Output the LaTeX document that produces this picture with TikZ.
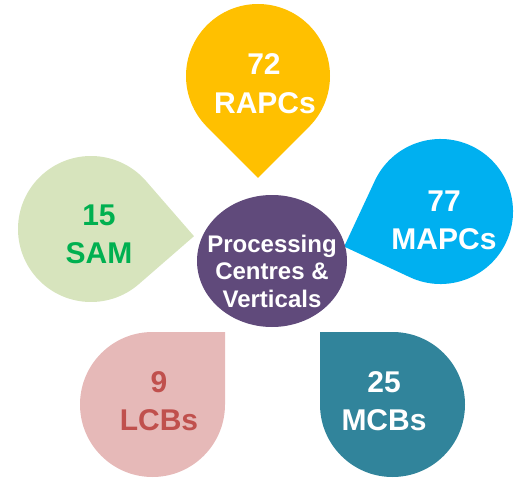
\documentclass[tikz,border=0pt]{standalone}
\usepackage{fontspec}
\setmainfont{Liberation Sans}
\definecolor{cgold}{HTML}{FFC000}
\definecolor{csamfill}{HTML}{D7E4BD}
\definecolor{csamtext}{HTML}{00B050}
\definecolor{cblue}{HTML}{00B0F0}
\definecolor{clcbfill}{HTML}{E6B9B8}
\definecolor{clcbtext}{HTML}{C0504D}
\definecolor{cteal}{HTML}{31849B}
\definecolor{cpurple}{HTML}{604A7B}
\newcommand\petaldrop[5]{%
  \fill[#1, shift={(#2,#3)}, rotate=#5] (1.41421*#4,0) -- (45:#4) arc[start angle=45, end angle=315, radius=#4] -- cycle;}
\tikzset{
  bigtxt/.style={anchor=base, font=\bfseries\fontsize{30}{36}\selectfont, inner sep=0pt},
  midtxt/.style={anchor=base, font=\bfseries\fontsize{24}{28}\selectfont, inner sep=0pt, text=white}
}
\begin{document}
\begin{tikzpicture}[x=1pt,y=1pt]
\useasboundingbox (0,0) rectangle (514,483);
% petals
\petaldrop{cgold}{258}{407}{72}{270}
\petaldrop{csamfill}{91}{254}{73}{-4}
\petaldrop{cblue}{440.5}{271.5}{72.5}{200}
\petaldrop{clcbfill}{152.5}{78.5}{72.5}{45}
\petaldrop{cteal}{392.5}{78.5}{72.5}{135}
% centre
\fill[cpurple] (272,222) ellipse[x radius=75, y radius=66];
% texts
\node[bigtxt, text=white] (n72) at (264,408) {72};
\node[bigtxt, text=white] (rapcs) at (265,370) {RAPCs};
\node[bigtxt, text=csamtext] (n15) at (99,258) {15};
\node[bigtxt, text=csamtext] (sam) at (99,220) {SAM};
\node[bigtxt, text=white] (n77) at (444,272) {77};
\node[bigtxt, text=white] (mapcs) at (444,234) {MAPCs};
\node[bigtxt, text=clcbtext] (n9) at (159,91) {9};
\node[bigtxt, text=clcbtext] (lcbs) at (159,53) {LCBs};
\node[bigtxt, text=white] (n25) at (384,91) {25};
\node[bigtxt, text=white] (mcbs) at (384,53) {MCBs};
\node[midtxt] (proc) at (272,231) {Processing};
\node[midtxt] (cent) at (272,204) {Centres \&};
\node[midtxt] (vert) at (272,176) {Verticals};
\end{tikzpicture}
\end{document}
